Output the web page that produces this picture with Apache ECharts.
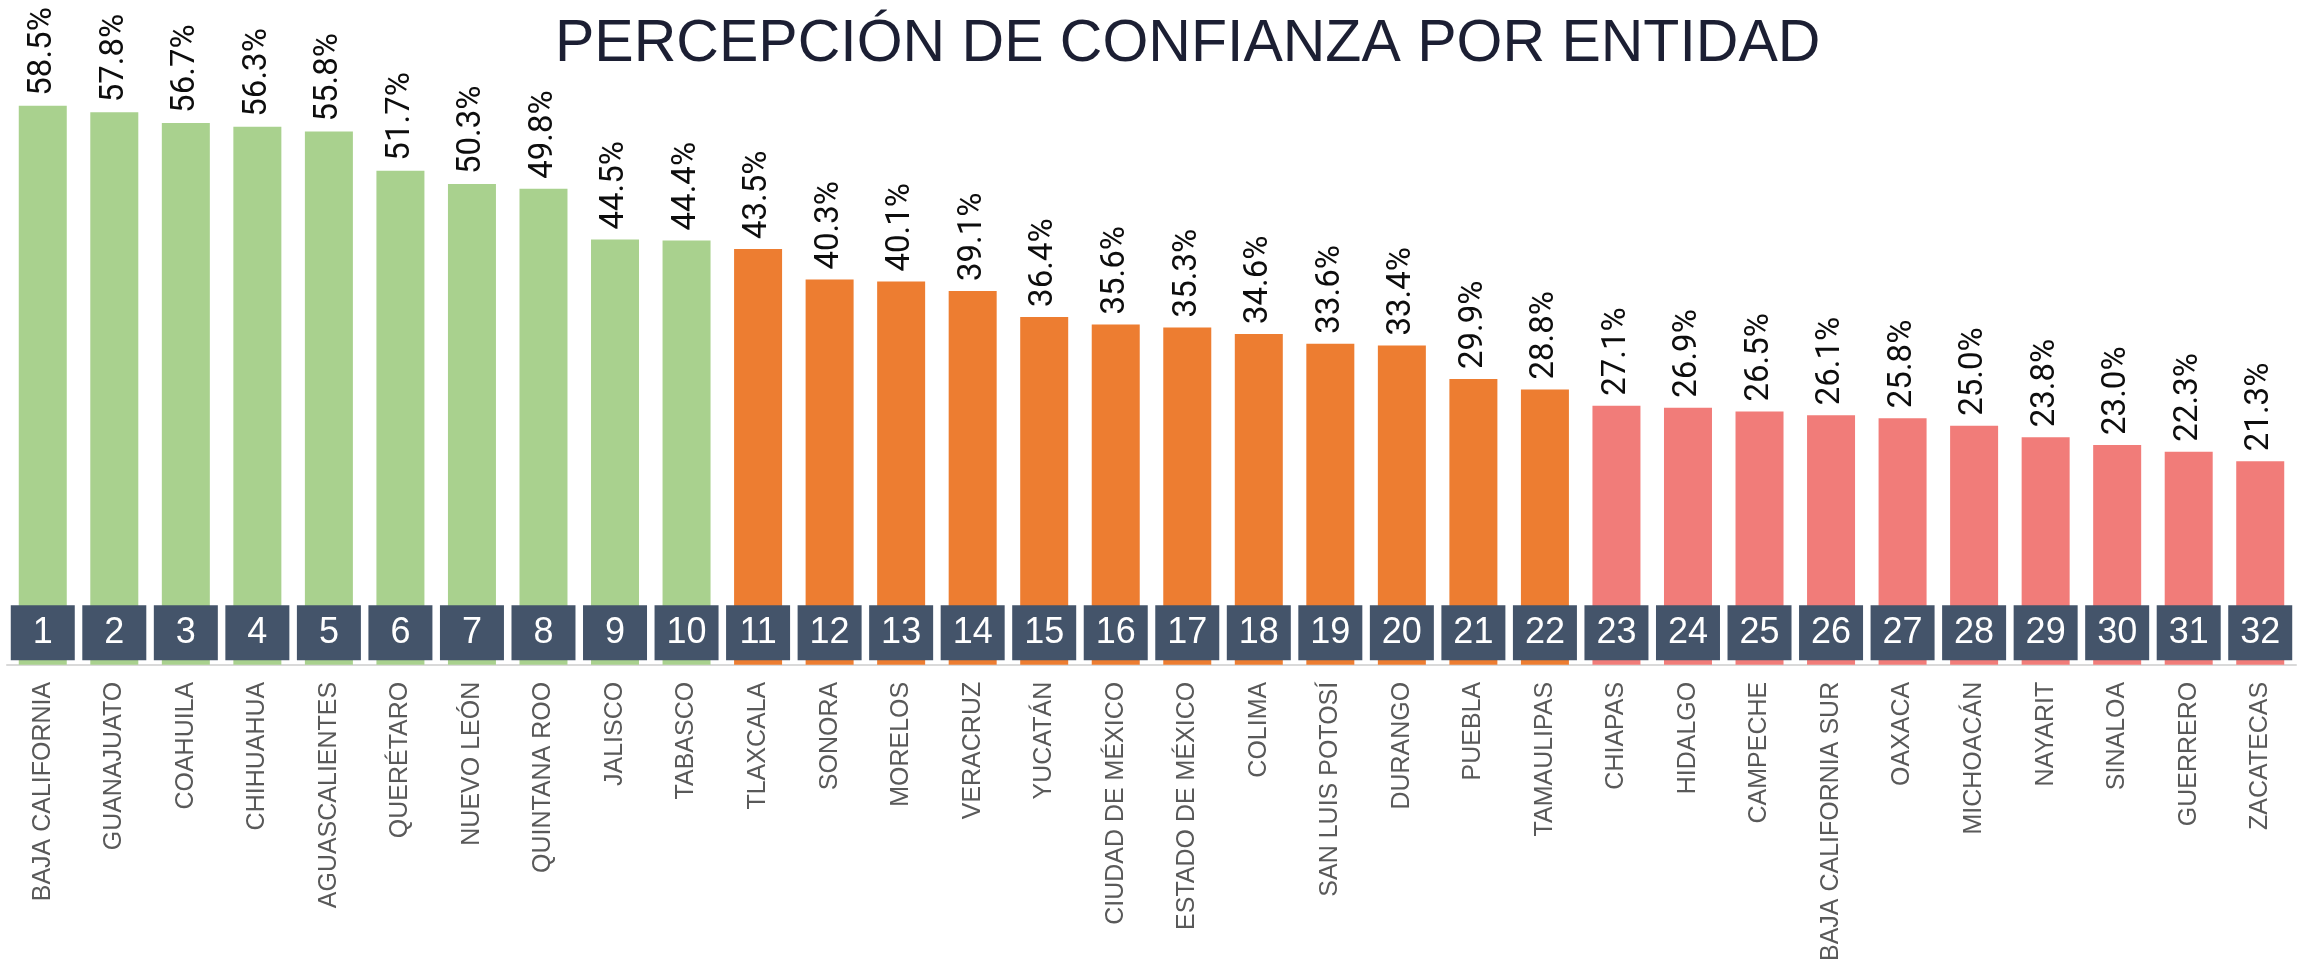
<!DOCTYPE html>
<html>
<head>
<meta charset="utf-8">
<script src="https://cdn.jsdelivr.net/npm/echarts@6/dist/echarts.min.js"></script>
<style>
  html, body { margin: 0; padding: 0; background: #fff; }
  #chart { width: 2305px; height: 964px; }
</style>
</head>
<body>
<div id="chart"></div>
<script>
// datos
const states = [
  "BAJA CALIFORNIA", "GUANAJUATO", "COAHUILA", "CHIHUAHUA", "AGUASCALIENTES",
  "QUERÉTARO", "NUEVO LEÓN", "QUINTANA ROO", "JALISCO", "TABASCO",
  "TLAXCALA", "SONORA", "MORELOS", "VERACRUZ", "YUCATÁN",
  "CIUDAD DE MÉXICO", "ESTADO DE MÉXICO", "COLIMA", "SAN LUIS POTOSÍ", "DURANGO",
  "PUEBLA", "TAMAULIPAS", "CHIAPAS", "HIDALGO", "CAMPECHE",
  "BAJA CALIFORNIA SUR", "OAXACA", "MICHOACÁN", "NAYARIT", "SINALOA",
  "GUERRERO", "ZACATECAS"
];
const confianza = [
  58.5, 57.8, 56.7, 56.3, 55.8, 51.7, 50.3, 49.8, 44.5, 44.4,
  43.5, 40.3, 40.1, 39.1, 36.4, 35.6, 35.3, 34.6, 33.6, 33.4,
  29.9, 28.8, 27.1, 26.9, 26.5, 26.1, 25.8, 25.0, 23.8, 23.0,
  22.3, 21.3
];
const ranks = [
  1, 2, 3, 4, 5, 6, 7, 8, 9, 10, 11, 12, 13, 14, 15, 16,
  17, 18, 19, 20, 21, 22, 23, 24, 25, 26, 27, 28, 29, 30, 31, 32
];
const tiers = [
  "alta", "alta", "alta", "alta", "alta", "alta", "alta", "alta", "alta", "alta",
  "media", "media", "media", "media", "media", "media", "media", "media", "media", "media", "media", "media",
  "baja", "baja", "baja", "baja", "baja", "baja", "baja", "baja", "baja", "baja"
];

const tierColor = { alta: "#A9D18E", media: "#ED7D31", baja: "#F17C79" };

let chart = echarts.init(document.getElementById("chart"));

let options = {
  animation: false,
  title: {
    text: "PERCEPCIÓN DE CONFIANZA POR ENTIDAD",
    left: 550,
    top: 10,
    textStyle: {
      fontFamily: "Liberation Sans",
      fontSize: 59,
      fontWeight: "normal",
      color: "#1c1f33",
    },
  },
  grid: {
    top: 34,
    bottom: 296,
    left: 7,
    right: 9,
  },
  xAxis: {
    type: "category",
    data: states,
    axisLine: { lineStyle: { color: "#D9D9D9", width: 2 } },
    axisTick: { show: false },
    axisLabel: {
      rotate: 90,
      margin: 17,
      interval: 0,
      fontFamily: "Liberation Sans",
      fontSize: 25,
      color: "#595959",
    },
  },
  yAxis: {
    type: "value",
    min: 0,
    max: 66,
    show: false,
    splitLine: { show: false },
  },
  series: [
    {
      type: "bar",
      barWidth: 48,
      data: confianza.map((v, i) => ({
        value: v,
        itemStyle: { color: tierColor[tiers[i]] },
      })),
      label: {
        show: true,
        position: "top",
        rotate: 90,
        align: "left",
        verticalAlign: "middle",
        distance: 10,
        fontFamily: "Roboto",
        fontSize: 33,
        color: "#0d0d0d",
        formatter: (p) => p.value.toFixed(1) + "%",
      },
    },
    {
      type: "scatter",
      symbol: "rect",
      symbolSize: [64, 55],
      symbolOffset: [0, -32],
      z: 5,
      itemStyle: { color: "#44546A", opacity: 1 },
      data: ranks.map((r, i) => [i, 0]),
      label: {
        show: true,
        position: "inside",
        fontFamily: "Liberation Sans",
        fontSize: 36,
        color: "#ffffff",
        formatter: (p) => String(ranks[p.dataIndex]),
      },
    },
  ],
};

chart.setOption(options);
</script>
</body>
</html>
